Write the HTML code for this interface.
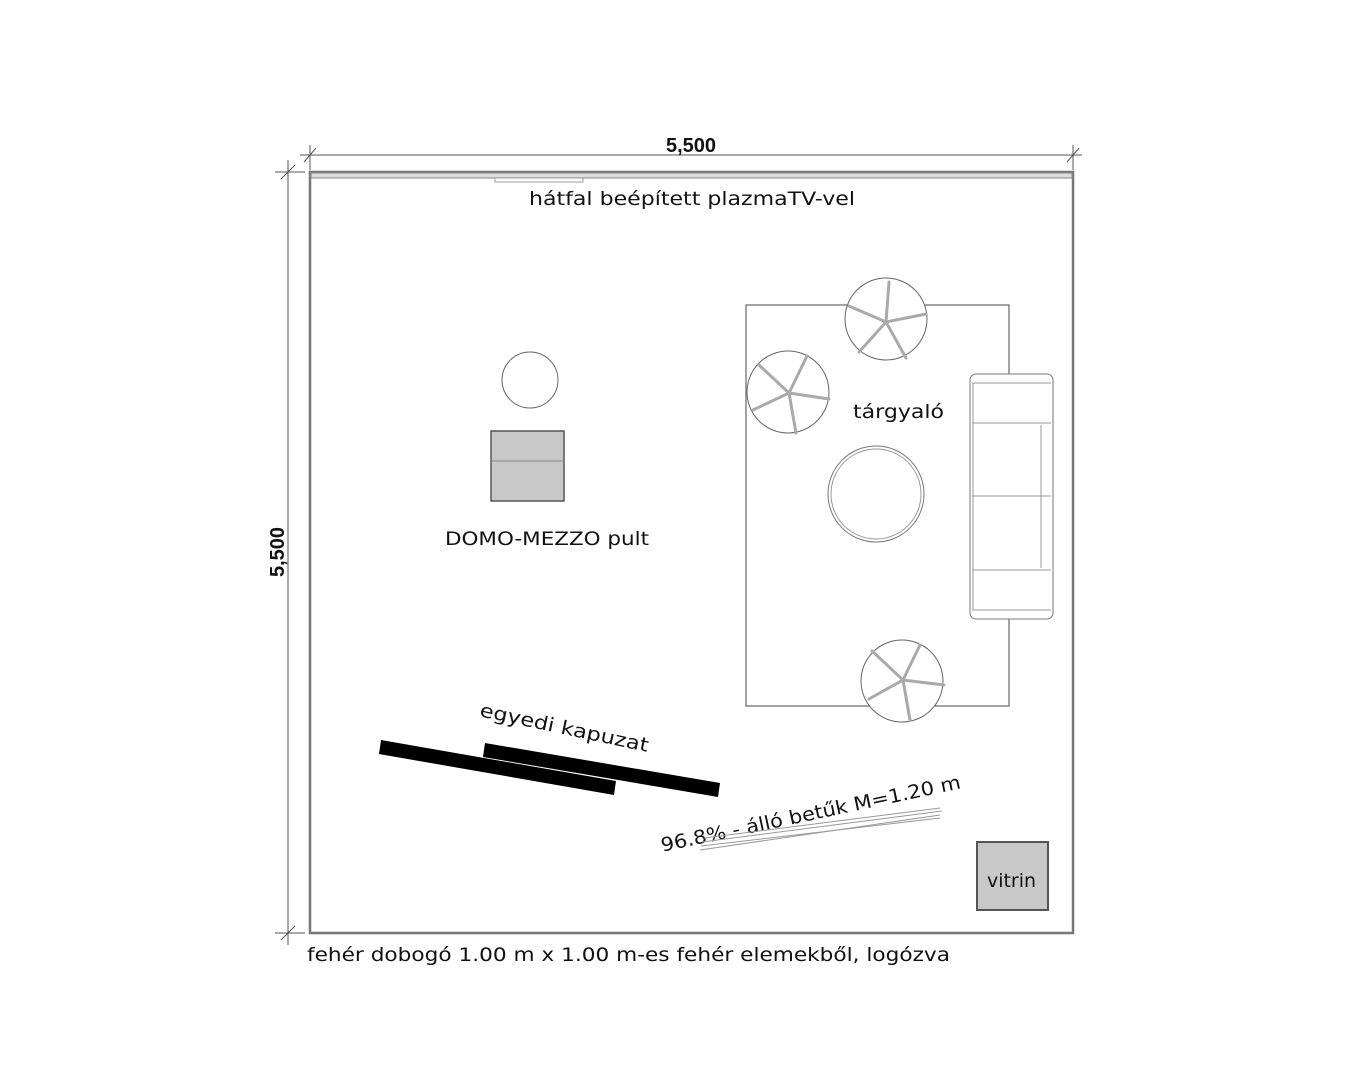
<!DOCTYPE html>
<html><head><meta charset="utf-8"><style>
html,body{margin:0;padding:0;background:#fff;}
svg{display:block;}
text{font-family:"DejaVu Sans","Liberation Sans",sans-serif;fill:#111;}
</style></head><body>
<svg width="1350" height="1080" viewBox="0 0 1350 1080" xmlns="http://www.w3.org/2000/svg">
<g stroke="#555" stroke-width="1" fill="none">
<line x1="300" y1="155" x2="1082" y2="155"/>
<line x1="310" y1="145" x2="310" y2="170"/>
<line x1="1073" y1="145" x2="1073" y2="170"/>
<line x1="304" y1="162" x2="316" y2="148"/>
<line x1="1067" y1="162" x2="1079" y2="148"/>
<line x1="288" y1="160" x2="288" y2="945"/>
<line x1="275" y1="172" x2="305" y2="172"/>
<line x1="275" y1="933" x2="305" y2="933"/>
<line x1="281" y1="179" x2="295" y2="165"/>
<line x1="281" y1="940" x2="295" y2="926"/>
</g>
<text x="691" y="152" font-size="20" font-weight="bold" text-anchor="middle" style="font-family:'Liberation Sans',sans-serif">5,500</text>
<text transform="translate(284,552) rotate(-90)" font-size="20" font-weight="bold" text-anchor="middle" style="font-family:'Liberation Sans',sans-serif">5,500</text>
<rect x="310" y="172" width="763" height="761" fill="none" stroke="#777" stroke-width="2.5"/>
<rect x="311" y="173" width="761" height="5" fill="#ddd" stroke="#888" stroke-width="1"/>
<rect x="495" y="178" width="88" height="4" fill="#fff" stroke="#888" stroke-width="0.8"/>
<text x="529" y="205" font-size="19" textLength="326" lengthAdjust="spacingAndGlyphs">hátfal beépített plazmaTV-vel</text>
<circle cx="530" cy="380" r="28" fill="#fff" stroke="#666" stroke-width="1"/>
<rect x="491" y="431" width="73" height="70" fill="#c8c8c8" stroke="#555" stroke-width="1.5"/>
<line x1="491" y1="461" x2="564" y2="461" stroke="#888" stroke-width="1"/>
<text x="445" y="545" font-size="19" textLength="204" lengthAdjust="spacingAndGlyphs">DOMO-MEZZO pult</text>
<rect x="746" y="305" width="263" height="401" fill="none" stroke="#666" stroke-width="1.2"/>
<rect x="970" y="374" width="83" height="245" rx="6" fill="#fff" stroke="#777" stroke-width="1"/>
<g stroke="#999" stroke-width="1" fill="none">
<line x1="972" y1="383" x2="1051" y2="383"/>
<line x1="972" y1="423" x2="1051" y2="423"/>
<line x1="972" y1="496" x2="1051" y2="496"/>
<line x1="972" y1="570" x2="1051" y2="570"/>
<line x1="972" y1="610" x2="1051" y2="610"/>
<line x1="1041" y1="425" x2="1041" y2="568"/>
<line x1="973" y1="383" x2="973" y2="610"/>
</g>
<circle cx="876" cy="494" r="48" fill="#fff" stroke="#777" stroke-width="1"/>
<circle cx="876" cy="494" r="45" fill="none" stroke="#999" stroke-width="1"/>
<text x="853" y="418" font-size="19" textLength="91" lengthAdjust="spacingAndGlyphs">tárgyaló</text>
<g stroke="#666" stroke-width="1" fill="#fff">
<circle cx="886" cy="319" r="41"/>
<circle cx="788" cy="392" r="41"/>
<circle cx="902" cy="681" r="41"/>
</g>
<g stroke="#aaa" stroke-width="3" fill="none" stroke-linecap="round">
<path d="M886 322 L889 282 M886 322 L926 314 M886 322 L906 358 M886 322 L859 352 M886 322 L849 306"/>
<path d="M789 393 L807 356 M789 393 L829 399 M789 393 L796 433 M789 393 L753 410 M789 393 L759 365"/>
<path d="M903 680 L920 645 M903 680 L944 685 M903 680 L910 720 M903 680 L869 699 M903 680 L872 651"/>
</g>
<polygon points="381,740 616,781 614,795 379,754" fill="#000"/>
<polygon points="485,743 720,783 718,797 483,757" fill="#000"/>
<text transform="translate(563,734) rotate(12)" font-size="19" text-anchor="middle" textLength="172" lengthAdjust="spacingAndGlyphs">egyedi kapuzat</text>
<text transform="translate(812,820) rotate(-12)" font-size="19" text-anchor="middle" textLength="306" lengthAdjust="spacingAndGlyphs">96.8% - álló betűk M=1.20 m</text>
<g stroke="#999" stroke-width="1">
<line x1="700" y1="850" x2="940" y2="815"/>
<line x1="701" y1="846" x2="940" y2="818"/>
<line x1="702" y1="842" x2="942" y2="811"/>
<line x1="704" y1="838" x2="940" y2="808"/>
</g>
<rect x="977" y="842" width="71" height="68" fill="#c8c8c8" stroke="#555" stroke-width="2"/>
<text x="987" y="887" font-size="19" textLength="49" lengthAdjust="spacingAndGlyphs">vitrin</text>
<text x="307" y="961" font-size="19" textLength="643" lengthAdjust="spacingAndGlyphs">fehér dobogó 1.00 m x 1.00 m-es fehér elemekből, logózva</text>
</svg>
</body></html>
